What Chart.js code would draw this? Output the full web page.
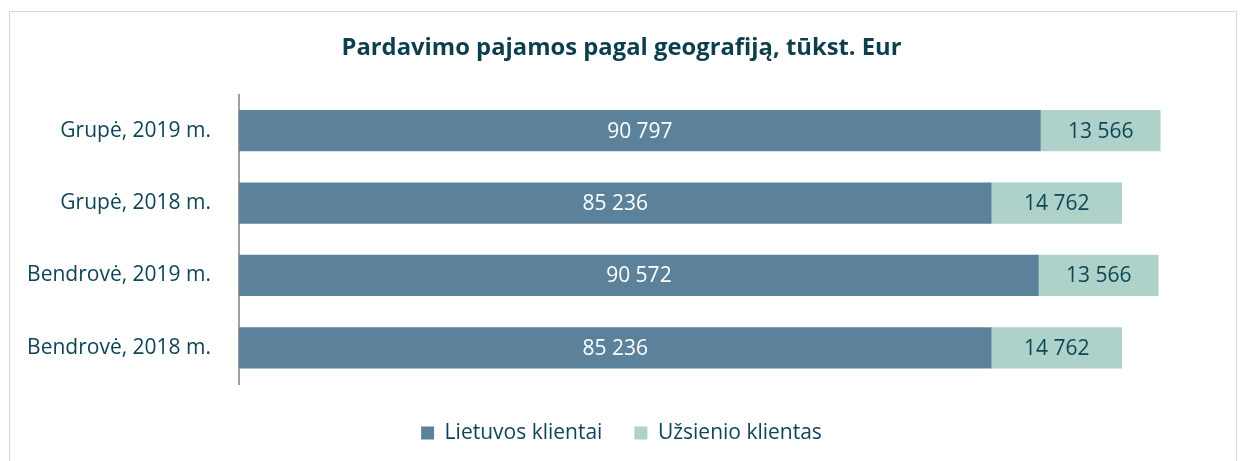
<!DOCTYPE html>
<html><head><meta charset="utf-8">
<script src="https://cdn.jsdelivr.net/npm/chart.js@4/dist/chart.umd.min.js"></script>
<style>html,body{margin:0;padding:0;background:#fff}#wrap{width:1243px;height:461px;position:relative}</style>
</head><body><div id="wrap"><canvas id="c" width="1243" height="461"></canvas></div>
<script>
const categories = ["Grupė, 2019 m.", "Grupė, 2018 m.", "Bendrovė, 2019 m.", "Bendrovė, 2018 m."];
const lietuvos = [90797, 85236, 90572, 85236];
const uzsienio = [13566, 14762, 13566, 14762];
const seriesNames = ["Lietuvos klientai", "Užsienio klientas"];
const titleText = "Pardavimo pajamos pagal geografiją, tūkst. Eur";

const TXT = "#0d4656";
const FS = 21;
const fmt = v => String(v).replace(/\B(?=(\d{3})+(?!\d))/g, "\u00a0");

const frame = {
  id: "frame",
  beforeDraw(chart) {
    const ctx = chart.ctx;
    ctx.save();
    ctx.strokeStyle = "#d9d9d9";
    ctx.lineWidth = 1;
    ctx.strokeRect(9.5, 11.5, 1227, 470);
    ctx.restore();
  }
};
const labels = {
  id: "valLabels",
  afterDatasetsDraw(chart) {
    const ctx = chart.ctx;
    ctx.save();
    ctx.font = FS + "px 'Open Sans'";
    ctx.textAlign = "center";
    ctx.textBaseline = "middle";
    chart.data.datasets.forEach((ds, i) => {
      const meta = chart.getDatasetMeta(i);
      meta.data.forEach((bar, j) => {
        const l = Math.min(bar.x, bar.base), r = Math.max(bar.x, bar.base);
        ctx.fillStyle = i === 0 ? "#ffffff" : TXT;
        ctx.fillText(fmt(ds.data[j]), (l + r) / 2, bar.y + 1);
      });
    });
    ctx.restore();
  }
};

new Chart(document.getElementById("c"), {
  type: "bar",
  data: {
    labels: categories,
    datasets: [
      { label: seriesNames[0], data: lietuvos, backgroundColor: "#5b829a", borderWidth: 0 },
      { label: seriesNames[1], data: uzsienio, backgroundColor: "#aed2ca", borderWidth: 0 }
    ]
  },
  options: {
    indexAxis: "y",
    responsive: false,
    animation: false,
    layout: { padding: { left: 0, right: 0, top: 0, bottom: 7.5 } },
    datasets: { bar: { barPercentage: 0.57, categoryPercentage: 1 } },
    scales: {
      x: {
        stacked: true, display: true, min: 0, max: 113700,
        grid: { display: false, drawTicks: false }, border: { display: false },
        ticks: { display: false },
        afterFit(s) { s.height = 6.5; }
      },
      y: {
        stacked: true,
        grid: { display: false, drawTicks: false },
        border: { display: true, color: "#a0a0a0", width: 2 },
        ticks: { color: TXT, font: { family: "'Open Sans'", size: FS }, padding: 28 },
        afterFit(s) { s.width = 239; }
      }
    },
    plugins: {
      title: {
        display: true, text: titleText, color: "#0d3e4e",
        font: { family: "'Open Sans'", size: 23.8, weight: "bold" },
        padding: { top: 34, bottom: 32 }
      },
      legend: {
        position: "bottom",
        labels: {
          color: TXT, font: { family: "'Open Sans'", size: FS },
          boxWidth: 13, boxHeight: 13, padding: 32
        }
      },
      tooltip: { enabled: false }
    }
  },
  plugins: [frame, labels]
});
</script></body></html>
